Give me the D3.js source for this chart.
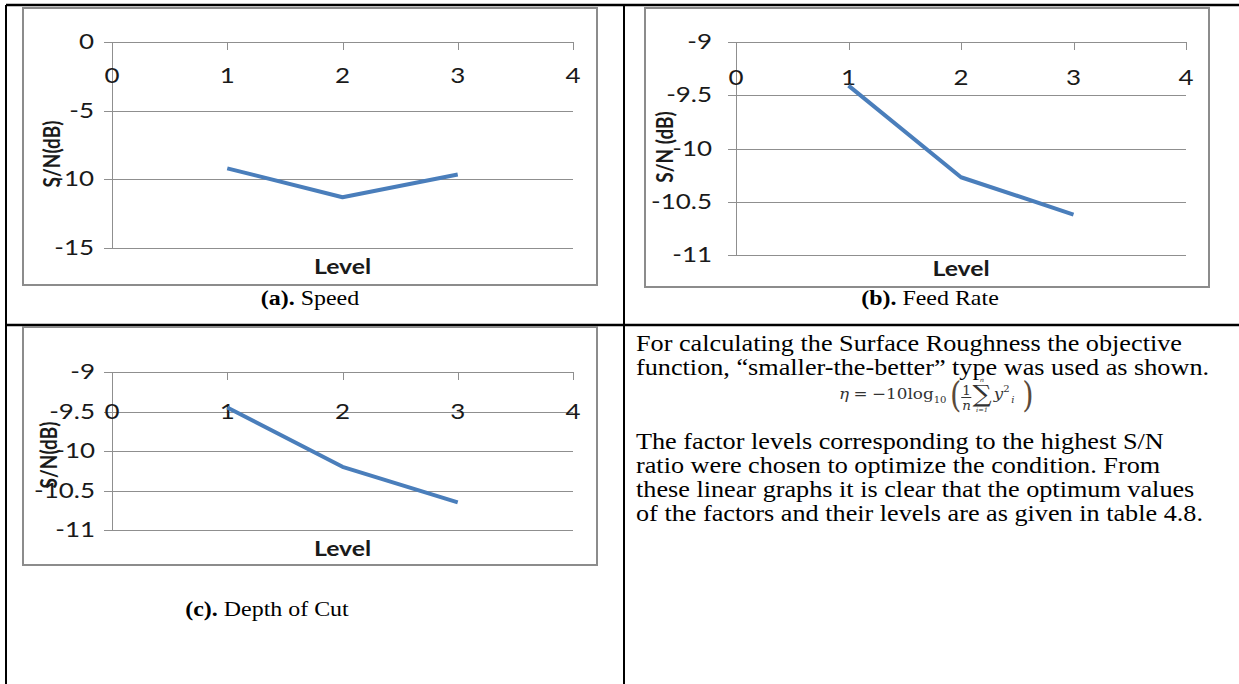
<!DOCTYPE html>
<html>
<head>
<meta charset="utf-8">
<script src="https://cdn.jsdelivr.net/npm/d3@7"></script>
<style>
  body { margin: 0; background: #fff; }
  svg { display: block; }
</style>
</head>
<body>
<svg id="page" width="1239" height="684"></svg>
<script>
// levels on the x axis of every chart
const levels = [1, 2, 3];
const xTicks = [0, 1, 2, 3, 4];

// S/N ratio (dB) read at levels 1..3
const speedSN = [-9.2, -11.3, -9.65];
const feedSN = [-9.41, -10.27, -10.62];
const depthSN = [-9.45, -10.2, -10.65];

// y tick labels
const speedTicks = [0, -5, -10, -15];
const feedTicks = [-9, -9.5, -10, -10.5, -11];
const depthTicks = [-9, -9.5, -10, -10.5, -11];

const paragraph1 = [
    "For calculating the Surface Roughness the objective",
    "function, \u201Csmaller-the-better\u201D type was used as shown."
];
const paragraph2 = [
    "The factor levels corresponding to the highest S/N",
    "ratio were chosen to optimize the condition. From",
    "these linear graphs it is clear that the optimum values",
    "of the factors and their levels are as given in table 4.8."
];

// the page picture is a bit wider than tall, so all text is stretched
const SX_BODY = 1.14;
const SX_CHART = 1.18;
const SERIF = "'Times New Roman', 'Liberation Serif', serif";
const SANS = "Lato, 'Open Sans', sans-serif";

var svg = d3.select("#page");

// table rules
svg.append("g")
    .attr("stroke", "#000")
    .selectAll("line")
    .data([[6, 5, 1239, 5, 2.5], [6, 5, 6, 684, 2], [624, 5, 624, 684, 2], [6, 325, 1239, 325, 2.5]])
    .enter()
    .append("line")
    .attr("x1", d => d[0]).attr("y1", d => d[1])
    .attr("x2", d => d[2]).attr("y2", d => d[3])
    .attr("stroke-width", d => d[4]);

function chartText(g, x, y, str, size, anchor, bold) {
    return g.append("text")
        .attr("transform", "translate(" + x + "," + y + ") scale(" + SX_CHART + ",1)")
        .attr("text-anchor", anchor)
        .style("font-family", SANS)
        .style("font-size", size + "px")
        .style("font-weight", bold ? "bold" : "normal")
        .style("fill", "#1a1a1a")
        .text(str);
}

const panels = [
    {values: speedSN, ticks: speedTicks, box: [23, 8, 597, 285], plot: [112, 573, 42, 248], gap: 18,
     title: "S/N(dB)", titleAt: [52, 154], labelY: 83, levelY: 274, caption: ["(a).", " Speed"], captionAt: [310, 305]},
    {values: feedSN, ticks: feedTicks, box: [645, 8, 1209, 287], plot: [736, 1186, 42, 255], gap: 24,
     title: "S/N (dB)", titleAt: [665, 147], labelY: 85, levelY: 276, caption: ["(b).", " Feed Rate"], captionAt: [930, 305]},
    {values: depthSN, ticks: depthTicks, box: [23, 327, 597, 565], plot: [112, 573, 372, 530], gap: 17,
     title: "S/N(dB)", titleAt: [49, 455], labelY: 419, levelY: 556, caption: ["(c).", " Depth of Cut"], captionAt: [267, 616]}
];

panels.forEach(function(p) {
    var g = svg.append("g");
    var x = d3.scaleLinear().domain([0, 4]).range([p.plot[0], p.plot[1]]);
    var y = d3.scaleLinear().domain(d3.extent(p.ticks)).range([p.plot[3], p.plot[2]]);

    // chart frame
    g.append("rect")
        .attr("x", p.box[0]).attr("y", p.box[1])
        .attr("width", p.box[2] - p.box[0]).attr("height", p.box[3] - p.box[1])
        .attr("fill", "#fff")
        .attr("stroke", "#8c8c8c")
        .attr("stroke-width", 2);

    // gridlines (they run out past the axis as the tick marks)
    g.selectAll(".grid")
        .data(p.ticks)
        .enter()
        .append("line")
        .attr("x1", x(0) - 8).attr("x2", x(4))
        .attr("y1", d => Math.round(y(d)) + 0.5).attr("y2", d => Math.round(y(d)) + 0.5)
        .attr("stroke", "#8f8f8f");

    // value axis
    g.append("line")
        .attr("x1", Math.round(x(0)) + 0.5).attr("x2", Math.round(x(0)) + 0.5)
        .attr("y1", y(p.ticks[0])).attr("y2", y(p.ticks[p.ticks.length - 1]))
        .attr("stroke", "#8f8f8f");

    // level axis ticks hang from the top line
    g.selectAll(".xtick")
        .data(xTicks.slice(1))
        .enter()
        .append("line")
        .attr("x1", d => Math.round(x(d)) + 0.5).attr("x2", d => Math.round(x(d)) + 0.5)
        .attr("y1", y(p.ticks[0])).attr("y2", y(p.ticks[0]) + 8)
        .attr("stroke", "#8f8f8f");

    p.ticks.forEach(function(t) {
        chartText(g, x(0) - p.gap, y(t) + 7, String(t), 22, "end", false);
    });
    xTicks.forEach(function(t) {
        chartText(g, x(t), p.labelY, String(t), 22, "middle", false);
    });

    chartText(g, x(2), p.levelY, "Level", 21, "middle", true);

    g.append("text")
        .attr("transform", "translate(" + p.titleAt[0] + "," + p.titleAt[1] + ") scale(" + SX_CHART + ",1) rotate(-90)")
        .attr("text-anchor", "middle")
        .attr("dy", "0.35em")
        .style("font-family", SANS)
        .style("font-size", "19px")
        .style("font-weight", "bold")
        .style("fill", "#1a1a1a")
        .text(p.title);

    var line = d3.line()
        .x((d, i) => x(levels[i]))
        .y(d => y(d));

    g.append("path")
        .datum(p.values)
        .attr("d", line)
        .attr("fill", "none")
        .attr("stroke", "#4a7ebb")
        .attr("stroke-width", 4)
        .attr("stroke-linejoin", "round");

    // caption under the chart
    var cap = svg.append("text")
        .attr("transform", "translate(" + p.captionAt[0] + "," + p.captionAt[1] + ") scale(" + SX_BODY + ",1)")
        .attr("text-anchor", "middle")
        .style("font-family", SERIF)
        .style("font-size", "21px")
        .style("fill", "#000");
    cap.append("tspan").style("font-weight", "bold").text(p.caption[0]);
    cap.append("tspan").text(p.caption[1]);
});

// body text of the last cell
function bodyLines(lines, y0) {
    svg.append("g")
        .selectAll("text")
        .data(lines)
        .enter()
        .append("text")
        .attr("transform", (d, i) => "translate(636," + (y0 + i * 24) + ") scale(" + SX_BODY + ",1)")
        .style("font-family", SERIF)
        .style("font-size", "23px")
        .style("fill", "#000")
        .text(d => d);
}
bodyLines(paragraph1, 351);
bodyLines(paragraph2, 449);

// smaller-the-better formula, pieces laid out one after the other
var f = svg.append("g")
    .attr("transform", "translate(839,399) scale(1.12,1)")
    .style("font-family", "'DejaVu Serif', serif")
    .style("fill", "#333");
var fx = 0;
function put(str, size, dy, italic, gap, advance) {
    var t = f.append("text").attr("x", fx).attr("y", dy)
        .style("font-size", size + "px")
        .style("font-style", italic ? "italic" : "normal")
        .text(str);
    var w = t.node().getComputedTextLength();
    if (advance !== false) fx += w + (gap || 0);
    return w;
}
function paren(str) {
    var t = f.append("text")
        .attr("transform", "translate(" + fx + ",8) scale(1,1.35)")
        .style("font-size", "26px")
        .style("fill", "#5a4a3a")
        .text(str);
    fx += t.node().getComputedTextLength() + 1;
}
put("\u03B7", 15, 0, true, 4);
put("=", 15, 0, false, 4);
put("\u221210log", 15, 0, false, 0);
put("10", 9, 4, false, 3);
paren("(");
var fracX = fx;
put("1", 12, -4, false, 0, false);
put("n", 12, 11, true, 0, false);
f.append("line").attr("x1", fracX - 1).attr("x2", fracX + 8).attr("y1", -1.5).attr("y2", -1.5)
    .attr("stroke", "#333").attr("stroke-width", 1);
fx += 9;
var sigX = fx;
var sw = put("\u2211", 24, 3, false, 2);
f.append("text").attr("x", sigX + sw / 2).attr("y", -17).attr("text-anchor", "middle")
    .style("font-size", "6px").style("font-style", "italic").text("n");
f.append("text").attr("x", sigX + sw / 2).attr("y", 13).attr("text-anchor", "middle")
    .style("font-size", "6px").style("font-style", "italic").text("i=1");
put("y", 15, 0, true, 0);
var supX = fx;
put("2", 9, -7, false, 0, false);
fx = supX + 7;
put("i", 9, 4, true, 7);
paren(")");
</script>
</body>
</html>
